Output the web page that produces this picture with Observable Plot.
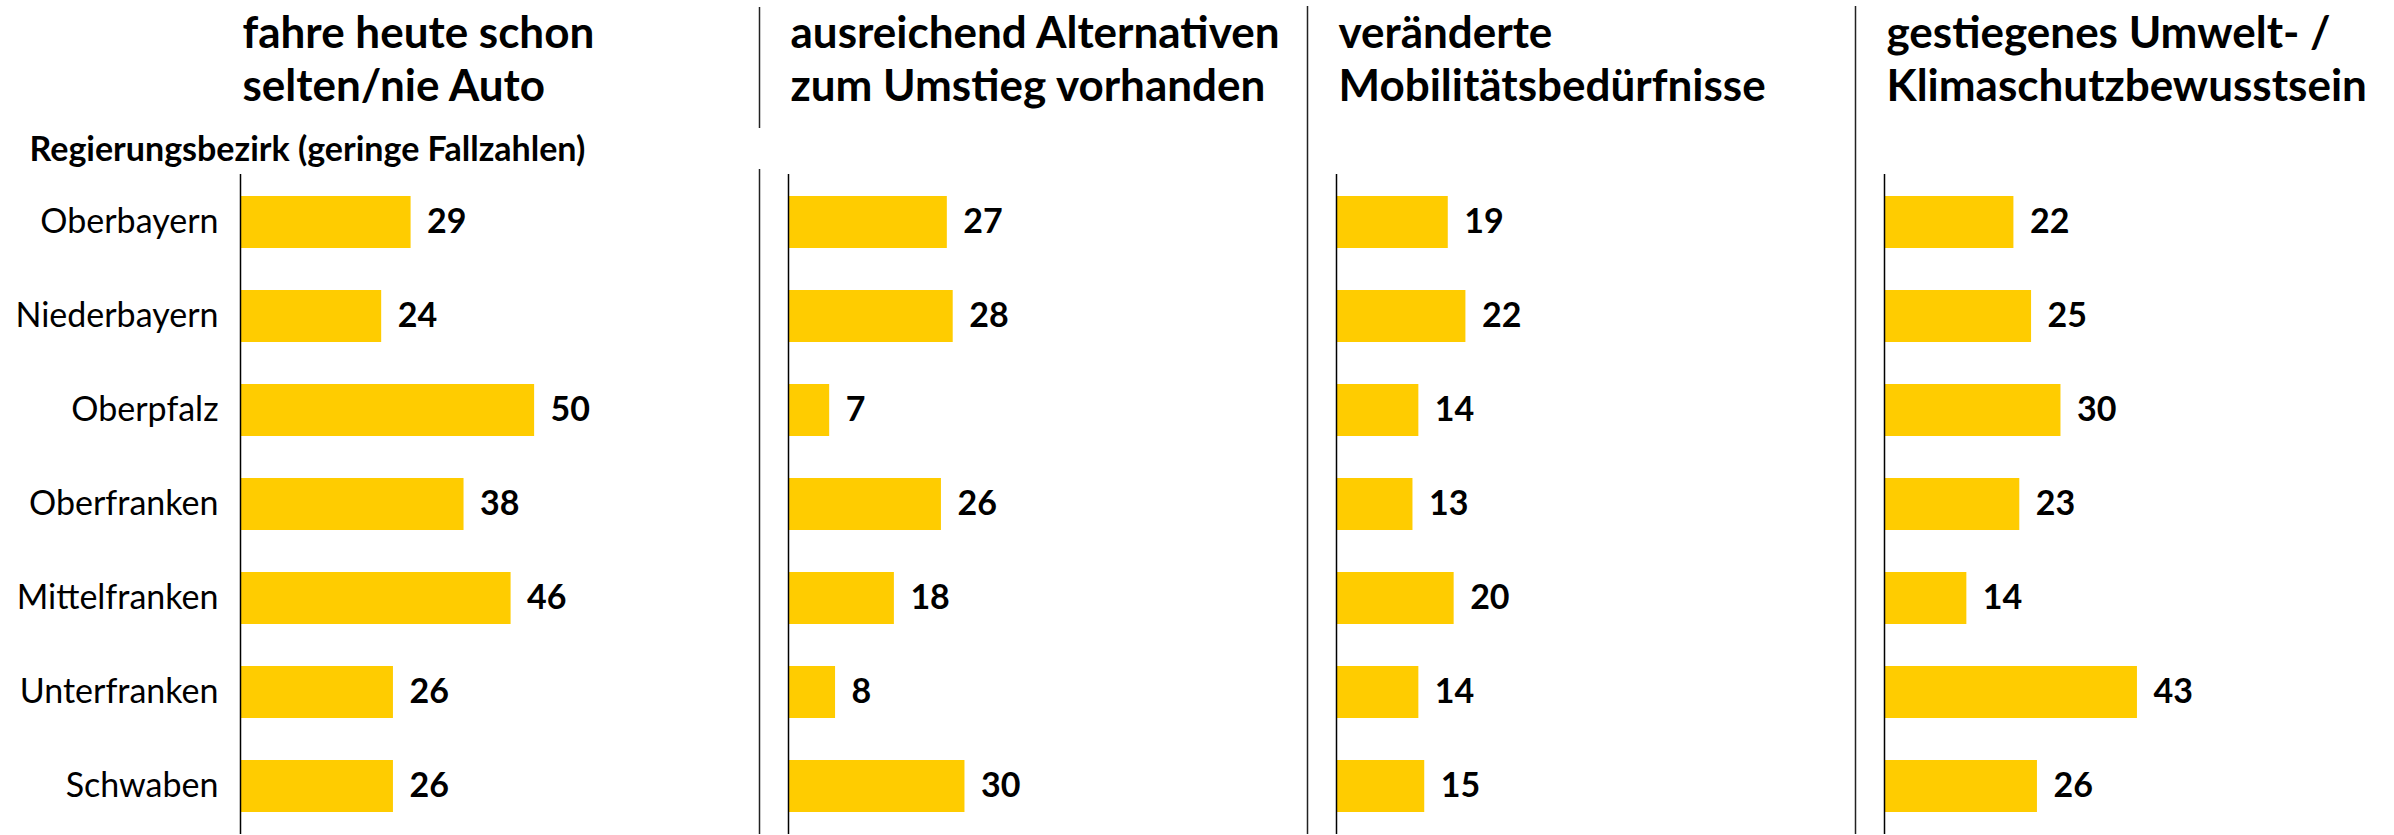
<!DOCTYPE html>
<html>
<head>
<meta charset="utf-8">
<script src="https://cdn.jsdelivr.net/npm/d3@7"></script>
<script src="https://cdn.jsdelivr.net/npm/@observablehq/plot@0.6"></script>
<style>
  html, body { margin: 0; padding: 0; background: #fff; }
  #chart svg { display: block; }
</style>
</head>
<body>
<div id="chart"></div>
<script>
const regions = ["Oberbayern", "Niederbayern", "Oberpfalz", "Oberfranken", "Mittelfranken", "Unterfranken", "Schwaben"];
const titles = [
  "fahre heute schon\nselten/nie Auto",
  "ausreichend Alternativen\nzum Umstieg vorhanden",
  "veränderte\nMobilitätsbedürfnisse",
  "gestiegenes Umwelt- /\nKlimaschutzbewusstsein"
];
const fahreSelten = [29, 24, 50, 38, 46, 26, 26];
const alternativen = [27, 28, 7, 26, 18, 8, 30];
const mobilitaet = [19, 22, 14, 13, 20, 14, 15];
const umwelt = [22, 25, 30, 23, 14, 43, 26];
const subtitle = "Regierungsbezirk (geringe Fallzahlen)";

const series = [fahreSelten, alternativen, mobilitaet, umwelt];
const data = [];
series.forEach((vals, i) => vals.forEach((v, j) => data.push({q: titles[i], region: regions[j], value: v})));

const font = "Lato, 'Open Sans', sans-serif";

const chart = Plot.plot({
  width: 2394,
  height: 835,
  marginTop: 174,
  marginBottom: 1,
  marginLeft: 239,
  marginRight: 0,
  style: {fontFamily: font, fontSize: "34px", color: "#000", background: "#fff"},
  fx: {domain: titles, axis: null, paddingInner: 0.07, paddingOuter: 0},
  x: {domain: [0, 86.7], axis: null},
  y: {domain: regions, paddingInner: 0.45, paddingOuter: 0.225, label: null},
  marks: [
    Plot.barX(data, {fx: "q", y: "region", x: "value", fill: "#FFCC00"}),
    Plot.ruleX([0], {stroke: "#000", strokeWidth: 1.5}),
    // separators between panels
    Plot.ruleX([titles[1]], {fx: d => d, x: 0, dx: -29, insetTop: -167, insetBottom: 706, stroke: "#222", strokeWidth: 1.5}),
    Plot.ruleX([titles[1]], {fx: d => d, x: 0, dx: -29, insetTop: -5, stroke: "#222", strokeWidth: 1.5}),
    Plot.ruleX([titles[2], titles[3]], {fx: d => d, x: 0, dx: -29, insetTop: -168, stroke: "#222", strokeWidth: 1.5}),
    Plot.text(data, {fx: "q", y: "region", x: "value", text: d => String(d.value), dx: 16, textAnchor: "start", fontWeight: "bold", fontSize: 34, fill: "#000"}),
    Plot.axisY({tickSize: 0, tickPadding: 22, fontSize: 34, fill: "#000", label: null}),
    Plot.text(titles, {fx: d => d, frameAnchor: "top-left", text: d => d, textAnchor: "start", lineAnchor: "top", dx: 2, dy: -164, fontSize: 44, fontWeight: "bold", lineHeight: 1.2, fill: "#000"}),
    Plot.text([subtitle], {fx: () => titles[0], frameAnchor: "top-left", text: d => d, textAnchor: "start", lineAnchor: "top", dx: -211, dy: -38, fontSize: 34, fontWeight: "bold", fill: "#000"})
  ]
});
document.getElementById("chart").appendChild(chart);
</script>
</body>
</html>
